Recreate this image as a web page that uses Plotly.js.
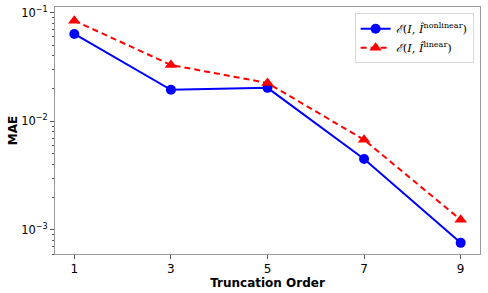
<!DOCTYPE html>
<html>
<head>
<meta charset="utf-8">
<script src="https://cdn.plot.ly/plotly-3.0.1.min.js"></script>
<style>html,body{margin:0;padding:0;background:#fff;}#chart{width:488px;height:293px;}</style>
</head>
<body>
<div id="chart"></div>
<script>
const orders = [1, 3, 5, 7, 9];
const maeNonlinear = [0.0637, 0.0195, 0.0203, 0.0045, 0.00076];
const maeLinear = [0.0844, 0.0330, 0.0225, 0.00675, 0.00124];
const xTickVals = [1, 3, 5, 7, 9];
const yTickVals = [0.001, 0.01, 0.1];
const yTickText = ['10<sup>−3</sup>', '10<sup>−2</sup>', '10<sup>−1</sup>'];
const yMinorVals = [0.0006,0.0007,0.0008,0.0009,0.002,0.003,0.004,0.005,0.006,0.007,0.008,0.009,0.02,0.03,0.04,0.05,0.06,0.07,0.08,0.09];

const traces = [
  {x: orders, y: maeNonlinear, type: 'scatter', mode: 'lines+markers',
   name: '<i>ℰ</i>(<i>I</i>, <i>Î</i><sup>nonlinear</sup>)',
   line: {color: '#0000ff', width: 2}, marker: {symbol: 'circle', size: 10, color: '#0000ff'}},
  {x: orders, y: maeLinear, type: 'scatter', mode: 'lines+markers',
   name: '<i>ℰ</i>(<i>I</i>, <i>Î</i><sup>linear</sup>)',
   line: {color: '#ff0000', width: 2, dash: '6px,4px'}, marker: {symbol: 'triangle-up', size: 11, color: '#ff0000'}}
];

const layout = {
  width: 488, height: 293,
  margin: {l: 55, r: 8, t: 7, b: 39},
  paper_bgcolor: '#fff', plot_bgcolor: '#fff',
  font: {family: 'DejaVu Sans', size: 11.5, color: '#000'},
  showlegend: true,
  legend: {x: 0.985, y: 0.975, xanchor: 'right', yanchor: 'top',
           bgcolor: 'rgba(255,255,255,0.8)', bordercolor: '#d8d8d8', borderwidth: 1,
           font: {family: 'DejaVu Serif', size: 11.5}, itemwidth: 30, tracegroupgap: 2},
  xaxis: {range: [0.6, 9.4], tickvals: xTickVals, ticks: 'outside', ticklen: 4, tickcolor: '#555',
          tickfont: {size: 12},
          showgrid: false, zeroline: false, showline: true, mirror: true, linecolor: '#999', linewidth: 1,
          title: {text: '<b>Truncation Order</b>', font: {size: 12}, standoff: 1}},
  yaxis: {type: 'log', range: [Math.log10(0.0006), Math.log10(0.1127)],
          tickvals: yTickVals, ticktext: yTickText, ticks: 'outside', ticklen: 4, tickcolor: '#555',
          tickfont: {size: 11.5},
          minor: {tickvals: yMinorVals, ticks: 'outside', ticklen: 2, tickcolor: '#555', showgrid: false},
          showgrid: false, zeroline: false, showline: true, mirror: true, linecolor: '#999', linewidth: 1,
          title: {text: '<b>MAE</b>', font: {size: 12}, standoff: 0}}
};

Plotly.newPlot('chart', traces, layout, {displayModeBar: false, staticPlot: true});
</script>
</body>
</html>
